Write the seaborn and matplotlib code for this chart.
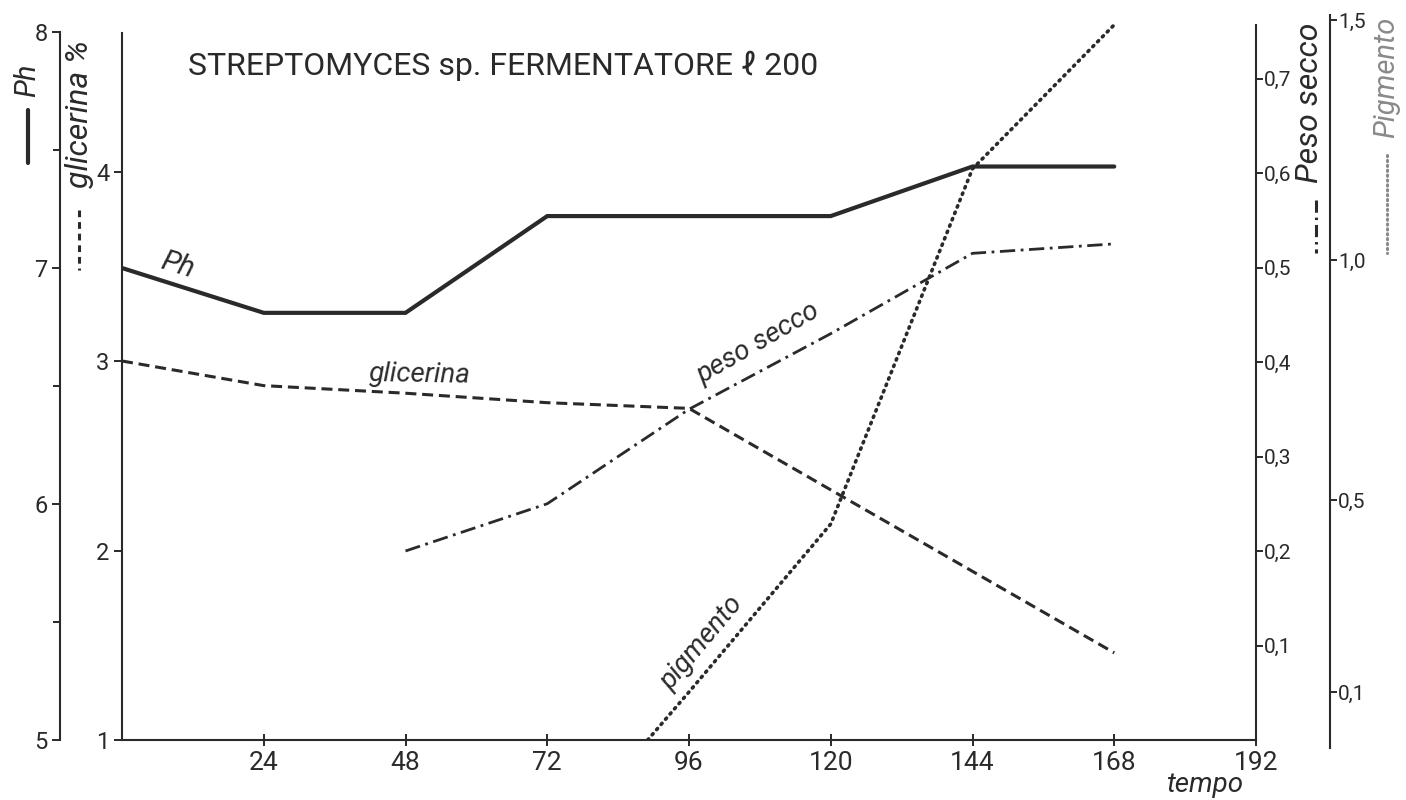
import matplotlib
matplotlib.use("Agg")
import matplotlib.pyplot as plt
from matplotlib.lines import Line2D
import seaborn as sns
import pandas as pd

# ---------------- data ----------------
time_ph = [0, 24, 48, 72, 96, 120, 144, 168]
ph = [7.0, 6.81, 6.81, 7.22, 7.22, 7.22, 7.43, 7.43]

time_gly = [0, 24, 48, 72, 96, 120, 144, 168]
glicerina = [3.0, 2.87, 2.83, 2.78, 2.75, 2.32, 1.89, 1.46]

time_peso = [48, 72, 96, 120, 144, 168]
peso_secco = [0.20, 0.25, 0.35, 0.43, 0.515, 0.525]

time_pig = [89, 96, 120, 144, 168]
pigmento = [0.0, 0.10, 0.45, 1.19, 1.49]

x_ticks = [24, 48, 72, 96, 120, 144, 168, 192]
ph_ticks = [5, 6, 7, 8]
ph_minor = [5.5, 6.5, 7.5]
gly_ticks = [1, 2, 3, 4]
peso_ticks = [0.1, 0.2, 0.3, 0.4, 0.5, 0.6, 0.7]
pig_ticks = [0.1, 0.5, 1.0, 1.5]

title = "STREPTOMYCES sp. FERMENTATORE \u2113 200"

# ---------------- style ----------------
sns.set_theme(style="white")
plt.rcParams["font.family"] = ["Roboto", "DejaVu Sans"]
INK = "#2a2a2a"
GREY = "#8a8a8a"
plt.rcParams["text.color"] = INK
plt.rcParams["axes.edgecolor"] = INK

W, H = 1406, 800
fig = plt.figure(figsize=(W / 100, H / 100), dpi=100)
fig.patch.set_facecolor("white")
x0, x1, yb, yt = 122, 1256, 740, 15
ax = fig.add_axes([x0 / W, 1 - yb / H, (x1 - x0) / W, (yb - yt) / H])
ax.set_facecolor("none")

ax_ph = ax.twinx()
ax_peso = ax.twinx()
ax_pig = ax.twinx()

ax.set_xlim(0, 192)
ax.set_ylim(1, 1 + 725 / 189.5)
ax_ph.set_ylim(5, 5 + 725 / 236)
ax_peso.set_ylim(0, 725 / 945)
ax_pig.set_ylim(0, 725 / 480)

SP_LW = 1.5
# main (glycerin) axis
for s in ["top", "right"]:
    ax.spines[s].set_visible(False)
ax.spines["left"].set_bounds(1, 4.73)
ax.spines["left"].set_linewidth(SP_LW)
ax.spines["bottom"].set_linewidth(SP_LW)
ax.set_yticks(gly_ticks)
ax.set_yticklabels([str(v) for v in gly_ticks])
ax.set_xticks(x_ticks)
ax.set_xticklabels([str(v) for v in x_ticks])
ax.tick_params(axis="y", left=True, direction="out", length=6, width=1.4,
               labelsize=17, pad=3, colors=INK)
ax.tick_params(axis="x", bottom=True, direction="inout", length=8, width=1.4,
               labelsize=19, pad=4, colors=INK)

# pH axis (far left)
for s in ["top", "right", "bottom"]:
    ax_ph.spines[s].set_visible(False)
ax_ph.spines["left"].set_visible(True)
ax_ph.spines["left"].set_position(("axes", (60 - x0) / (x1 - x0)))
ax_ph.spines["left"].set_bounds(5, 8)
ax_ph.spines["left"].set_linewidth(SP_LW)
ax_ph.yaxis.set_ticks_position("left")
ax_ph.yaxis.set_label_position("left")
ax_ph.set_yticks(ph_ticks)
ax_ph.set_yticklabels([str(v) for v in ph_ticks])
ax_ph.set_yticks(ph_minor, minor=True)
ax_ph.tick_params(axis="y", which="major", direction="out", length=6, width=1.4,
                  labelsize=17, pad=3, colors=INK)
ax_ph.tick_params(axis="y", which="minor", direction="out", length=5, width=1.4)

# peso secco axis (right)
for s in ["top", "left", "bottom"]:
    ax_peso.spines[s].set_visible(False)
ax_peso.spines["right"].set_bounds(0, 0.757)
ax_peso.spines["right"].set_linewidth(SP_LW)
ax_peso.set_yticks(peso_ticks)
ax_peso.set_yticklabels([f"{v:.1f}".replace(".", ",") for v in peso_ticks])
ax_peso.tick_params(axis="y", right=True, direction="out", length=5, width=1.4,
                    labelsize=15, pad=1, colors=INK)

# pigmento axis (far right)
for s in ["top", "left", "bottom"]:
    ax_pig.spines[s].set_visible(False)
ax_pig.spines["right"].set_position(("axes", (1330 - x0) / (x1 - x0)))
ax_pig.spines["right"].set_bounds(-0.017, 725 / 480)
ax_pig.spines["right"].set_linewidth(SP_LW)
ax_pig.set_yticks(pig_ticks)
ax_pig.set_yticklabels([f"{v:.1f}".replace(".", ",") for v in pig_ticks])
ax_pig.tick_params(axis="y", right=True, direction="out", length=5, width=1.4,
                   labelsize=15, pad=1, colors=INK)

for a in (ax, ax_ph, ax_peso, ax_pig):
    a.grid(False)

# ---------------- lines ----------------
df_ph = pd.DataFrame({"t": time_ph, "v": ph})
df_gly = pd.DataFrame({"t": time_gly, "v": glicerina})
df_peso = pd.DataFrame({"t": time_peso, "v": peso_secco})
df_pig = pd.DataFrame({"t": time_pig, "v": pigmento})

sns.lineplot(data=df_ph, x="t", y="v", ax=ax_ph, color=INK, lw=3.0,
             solid_joinstyle="miter")
sns.lineplot(data=df_gly, x="t", y="v", ax=ax, color=INK, lw=2.2,
             linestyle=(0, (3.6, 1.9)))
sns.lineplot(data=df_peso, x="t", y="v", ax=ax_peso, color=INK, lw=2.0,
             linestyle=(0, (5.5, 2.0, 1.0, 2.0)))
sns.lineplot(data=df_pig, x="t", y="v", ax=ax_pig, color=INK, lw=2.6,
             linestyle=(0, (0.4, 1.5)), dash_capstyle="round")

for a in (ax, ax_ph, ax_peso, ax_pig):
    a.set_xlabel("")
    a.set_ylabel("")
ax.set_xlim(0, 192)

# ---------------- texts ----------------
def px(x, y):
    return ((x - x0) / (x1 - x0), (yb - y) / (yb - yt))

ax.text(*px(188, 66), title, transform=ax.transAxes, ha="left", va="center",
        fontsize=23, color=INK)
ax.text(*px(177, 265), "Ph", transform=ax.transAxes, ha="center", va="center",
        fontsize=21, style="italic", rotation=-17, color=INK)
ax.text(*px(420, 375), "glicerina", transform=ax.transAxes, ha="center",
        va="center", fontsize=20, style="italic", rotation=-1, color=INK)
ax.text(*px(758, 343), "peso secco", transform=ax.transAxes, ha="center",
        va="center", fontsize=20, style="italic", rotation=30, color=INK)
ax.text(*px(702, 643), "pigmento", transform=ax.transAxes, ha="center",
        va="center", fontsize=20, style="italic", rotation=50, color=INK)
ax.text(*px(1205, 785), "tempo", transform=ax.transAxes, ha="center",
        va="center", fontsize=20, style="italic", color=INK)

# axis titles with line samples
fig.text(27 / W, 1 - 80 / H, "Ph", rotation=90, ha="center", va="center",
         fontsize=21, style="italic", color=INK)
fig.text(79 / W, 1 - 114 / H, "glicerina %", rotation=90, ha="center",
         va="center", fontsize=23, style="italic", color=INK)
fig.text(1310 / W, 1 - 103 / H, "Peso secco", rotation=90, ha="center",
         va="center", fontsize=23, style="italic", color=INK)
fig.text(1386 / W, 1 - 77 / H, "Pigmento", rotation=90, ha="center",
         va="center", fontsize=21, style="italic", color=GREY)

def sample(x, ya, yb_, **kw):
    fig.add_artist(Line2D([x / W, x / W], [1 - ya / H, 1 - yb_ / H],
                          transform=fig.transFigure, **kw))

sample(28, 110, 163, color=INK, lw=3.0)
sample(79, 210, 270, color=INK, lw=2.2, linestyle=(0, (2.2, 1.6)))
sample(1316, 200, 253, color=INK, lw=2.2, linestyle=(0, (4, 1.6, 0.8, 1.6)))
sample(1387, 155, 253, color=GREY, lw=2.2, linestyle=(0, (0.4, 1.2)),
       dash_capstyle="round")

fig.savefig("out.png", dpi=100, facecolor="white")
